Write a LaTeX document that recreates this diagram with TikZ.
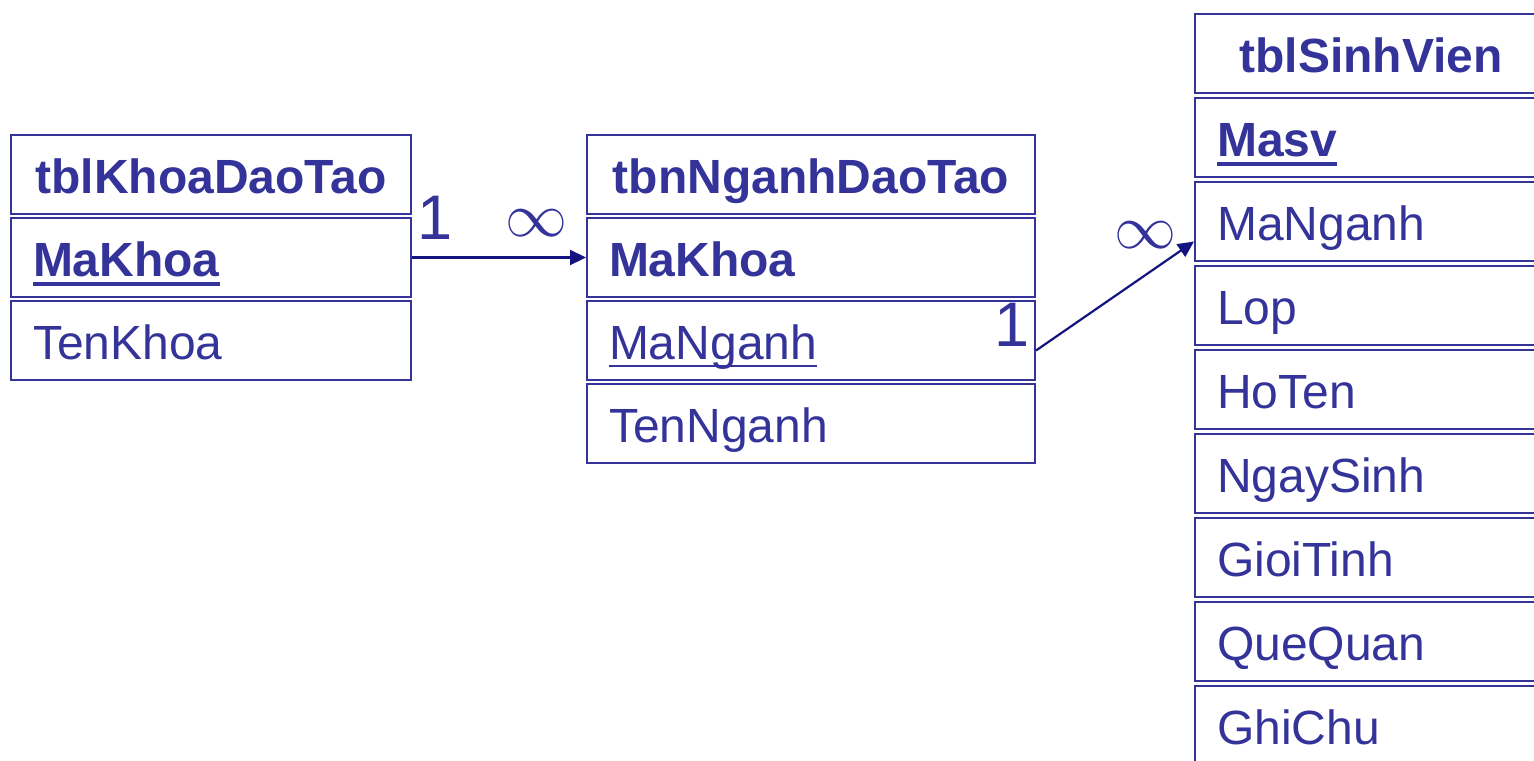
\documentclass[tikz,border=0pt]{standalone}
\usepackage{fix-cm}
\usepackage{fontspec}
\setmainfont{Liberation Sans}
\usetikzlibrary{arrows.meta}

\definecolor{tblblue}{RGB}{51,51,153}
\definecolor{relblue}{RGB}{20,20,128}

% primary key: text with a rule under it
\newcommand\pkey[2][1pt]{\setbox0=\hbox{#2}\rlap{\rule[\dimexpr-2.5pt-#1\relax]{\wd0}{#1}}\box0}

\tikzset{
  cell/.style={draw=tblblue, line width=1pt, text=tblblue, anchor=north west,
    minimum height=39.5pt, inner xsep=11pt, inner ysep=0pt, text width=#1,
    text height=26pt, text depth=7pt,
    font=\fontsize{24}{28}\selectfont},
  field/.style={cell=#1, align=left},
  head/.style={cell=#1, align=center, font=\fontsize{24}{28}\selectfont\bfseries},
  rel/.style={draw=relblue, line width=1.1pt, -{Triangle[length=8pt,width=7.5pt]}},
  card/.style={text=tblblue, inner sep=0pt, font=\fontsize{31.5}{36}\selectfont},
  many/.style={card, font=\fontsize{31}{36}\selectfont},
}

\begin{document}
\begin{tikzpicture}[x=0.5pt, y=-0.5pt]
\useasboundingbox (0,0) rectangle (1534,760);
\clip (0,0) rectangle (1534,760);

% tblKhoaDaoTao
\node[head=178pt] (k0) at (10,134) {tblKhoaDaoTao};
\node[field=178pt] (k1) at (10,217) {\pkey[2pt]{\bfseries MaKhoa}};
\node[field=178pt] (k2) at (10,300) {TenKhoa};

% tbnNganhDaoTao
\node[head=202pt] (n0) at (586,134) {tbnNganhDaoTao};
\node[field=202pt] (n1) at (586,217) {\bfseries MaKhoa};
\node[field=202pt] (n2) at (586,300) {\pkey{MaNganh}};
\node[field=202pt] (n3) at (586,383) {TenNganh};

% tblSinhVien
\node[head=154pt] (s0) at (1194,13) {tblSinhVien};
\node[field=154pt] (s1) at (1194,97) {\pkey[2pt]{\bfseries Masv}};
\foreach \fld [count=\i from 2] in {MaNganh,Lop,HoTen,NgaySinh,GioiTinh,QueQuan,GhiChu}
  \node[field=154pt] (s\i) at (1194,13+84*\i) {\fld};

% relationships
\draw[rel] (k1.east) -- (n1.west);
\draw[rel] ([yshift=-5pt]n2.east) -- ([yshift=-10pt]s2.west);

% cardinalities
\node[card] (one1) at (435,218) {1};
\node[many] (many1) at (536,223) {$\infty$};
\node[card] (one2) at (1012,325) {1};
\node[many] (many2) at (1145,235) {$\infty$};

\end{tikzpicture}
\end{document}
